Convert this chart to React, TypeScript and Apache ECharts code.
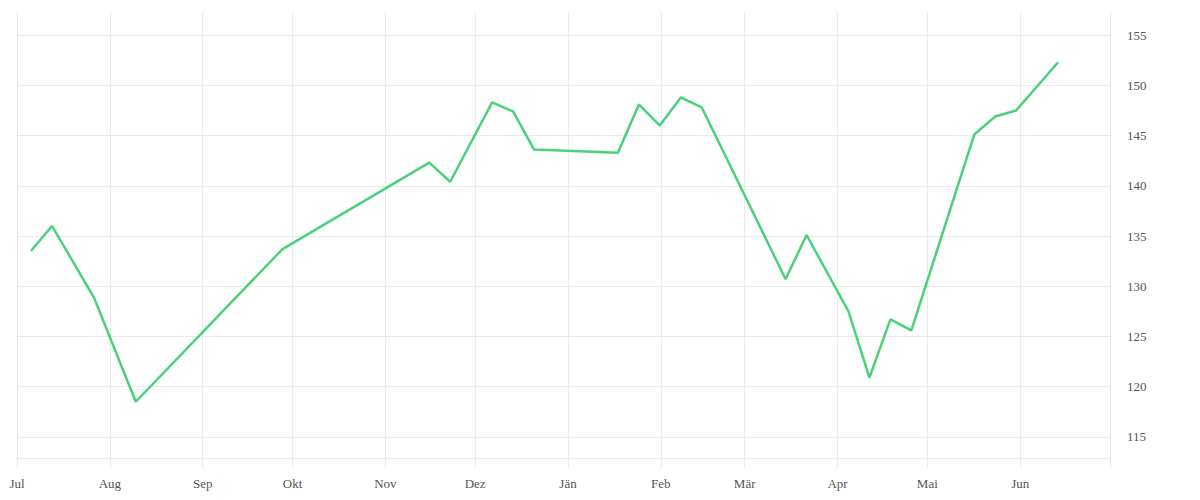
import React, { useEffect, useRef } from "react";
import * as echarts from "echarts";

const dates = [
  "2022-07-05", "2022-07-12", "2022-07-26", "2022-08-09", "2022-09-27",
  "2022-11-15", "2022-11-22", "2022-12-06", "2022-12-13", "2022-12-20",
  "2023-01-17", "2023-01-24", "2023-01-31", "2023-02-07", "2023-02-14",
  "2023-03-14", "2023-03-21", "2023-04-04", "2023-04-11", "2023-04-18",
  "2023-04-25", "2023-05-16", "2023-05-23", "2023-05-30", "2023-06-13",
];
const dataTime = "T16:00:00Z";
const values = [
  133.5, 136.0, 128.9, 118.5, 133.7,
  142.3, 140.4, 148.3, 147.4, 143.6,
  143.3, 148.1, 146.0, 148.8, 147.8,
  130.7, 135.1, 127.5, 120.9, 126.7,
  125.6, 145.1, 146.9, 147.5, 152.3,
];
const monthStarts = [
  "2022-07-01", "2022-08-01", "2022-09-01", "2022-10-01", "2022-11-01", "2022-12-01",
  "2023-01-01", "2023-02-01", "2023-03-01", "2023-04-01", "2023-05-01", "2023-06-01",
];
const monthLabels = ["Jul", "Aug", "Sep", "Okt", "Nov", "Dez", "Jän", "Feb", "Mär", "Apr", "Mai", "Jun"];
const axisStart = "2022-07-01";
const axisEnd = "2023-07-01";
const yTicks = [115, 120, 125, 130, 135, 140, 145, 150, 155];
const yMin = 112.9;
const yMax = 157.3;

const ts = (d: string, t = "T00:00:00Z") => Date.parse(d + t);

export default function App() {
  const ref = useRef<HTMLDivElement>(null);
  useEffect(() => {
    document.body.style.margin = "0";
    if (!ref.current) return;
    const chart = echarts.init(ref.current, undefined, { renderer: "svg" });
    const gridColor = "#ebebeb";
    const font = "Liberation Serif";
    const monthTs = monthStarts.map((d) => ts(d));
    chart.setOption({
      animation: false,
      grid: { left: 17, right: 90, top: 12, bottom: 42, containLabel: false },
      xAxis: {
        type: "value",
        min: ts(axisStart),
        max: ts(axisEnd),
        axisLine: { show: true, lineStyle: { color: gridColor, width: 1 } },
        axisTick: {
          show: true,
          length: 10,
          lineStyle: { color: gridColor },
          customValues: [...monthTs, ts(axisEnd)],
        },
        axisLabel: {
          customValues: monthTs,
          formatter: (v: number) => {
            const i = monthTs.indexOf(v);
            return i >= 0 ? monthLabels[i] : "";
          },
          margin: 19,
          color: "#555",
          fontFamily: font,
          fontSize: 13,
        },
        splitLine: { show: true, lineStyle: { color: gridColor } },
      },
      yAxis: {
        type: "value",
        position: "right",
        min: yMin,
        max: yMax,
        axisLine: { show: true, lineStyle: { color: gridColor } },
        axisTick: { show: false, customValues: yTicks },
        axisLabel: {
          customValues: yTicks,
          margin: 17,
          color: "#555",
          fontFamily: font,
          fontSize: 13,
        },
        splitLine: { show: true, lineStyle: { color: gridColor } },
      },
      series: [
        {
          type: "line",
          data: dates.map((d, i) => [ts(d, dataTime), values[i]]),
          showSymbol: false,
          lineStyle: { color: "#4cd17b", width: 2.5 },
          itemStyle: { color: "#4cd17b" },
        },
      ],
    });
    return () => chart.dispose();
  }, []);
  return <div ref={ref} style={{ width: 1200, height: 500 }} />;
}
